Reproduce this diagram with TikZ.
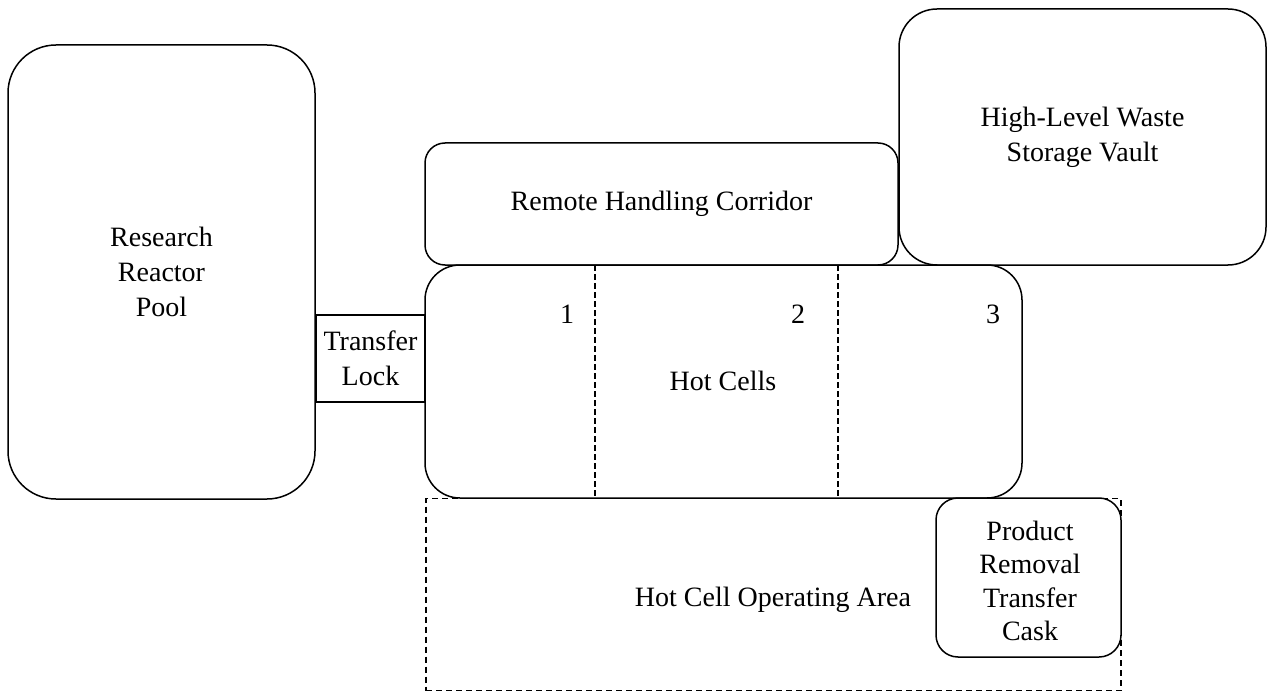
\documentclass[tikz,border=0pt]{standalone}
\usepackage{fontspec}
\setmainfont{Liberation Serif}
\begin{document}
\begin{tikzpicture}[x=1pt,y=-1pt,
  room/.style={draw=black, line width=1.5pt, fill=white, inner sep=0pt, align=center,
     font=\fontsize{28}{35}\selectfont},
  area/.style={draw=black, line width=1.3pt, dash pattern=on 6pt off 4pt, inner sep=0pt, align=center,
     font=\fontsize{28}{35}\selectfont},
  part/.style={draw=black, line width=1.2pt, dash pattern=on 6pt off 3pt},
  lbl/.style={inner sep=0pt, font=\fontsize{28}{35}\selectfont}]
\useasboundingbox (0,0) rectangle (1269,695);
% operating area (dashed)
\node[area, minimum width=695pt, minimum height=192pt] (op) at (773.5,594.5) {};
\node[lbl] (optext) at (773,600) {Hot Cell Operating Area};
% reactor pool
\node[room, rounded corners=48pt, minimum width=307pt, minimum height=454pt] (pool) at (161.5,272) {Research\\Reactor\\Pool};
% transfer lock
\node[room, minimum width=109pt, minimum height=87pt] (lock) at (370.5,358.5) {Transfer\\Lock};
% remote handling corridor
\node[room, rounded corners=20pt, minimum width=473pt, minimum height=122pt] (corr) at (661.5,204) {Remote Handling Corridor};
% high-level waste storage vault
\node[room, rounded corners=38pt, minimum width=367pt, minimum height=256pt] (vault) at (1082.5,137) {High-Level Waste\\Storage Vault};
% hot cells
\node[room, rounded corners=35pt, minimum width=597pt, minimum height=233pt] (hot) at (723.5,381.5) {};
\node[lbl] (hottext) at (723,381) {Hot Cells};
\draw[part] (595,265) -- (595,498);
\draw[part] (838,265) -- (838,498);
\node[lbl] (c1) at (567,314) {1};
\node[lbl] (c2) at (798,314) {2};
\node[lbl] (c3) at (993,314) {3};
% product removal transfer cask
\node[room, rounded corners=22pt, minimum width=185pt, minimum height=159pt] (cask) at (1028.5,577.5) {};
\node[lbl, align=center, font=\fontsize{28}{33.5}\selectfont] (casktext) at (1030,581) {Product\\Removal\\Transfer\\Cask};
\end{tikzpicture}
\end{document}
